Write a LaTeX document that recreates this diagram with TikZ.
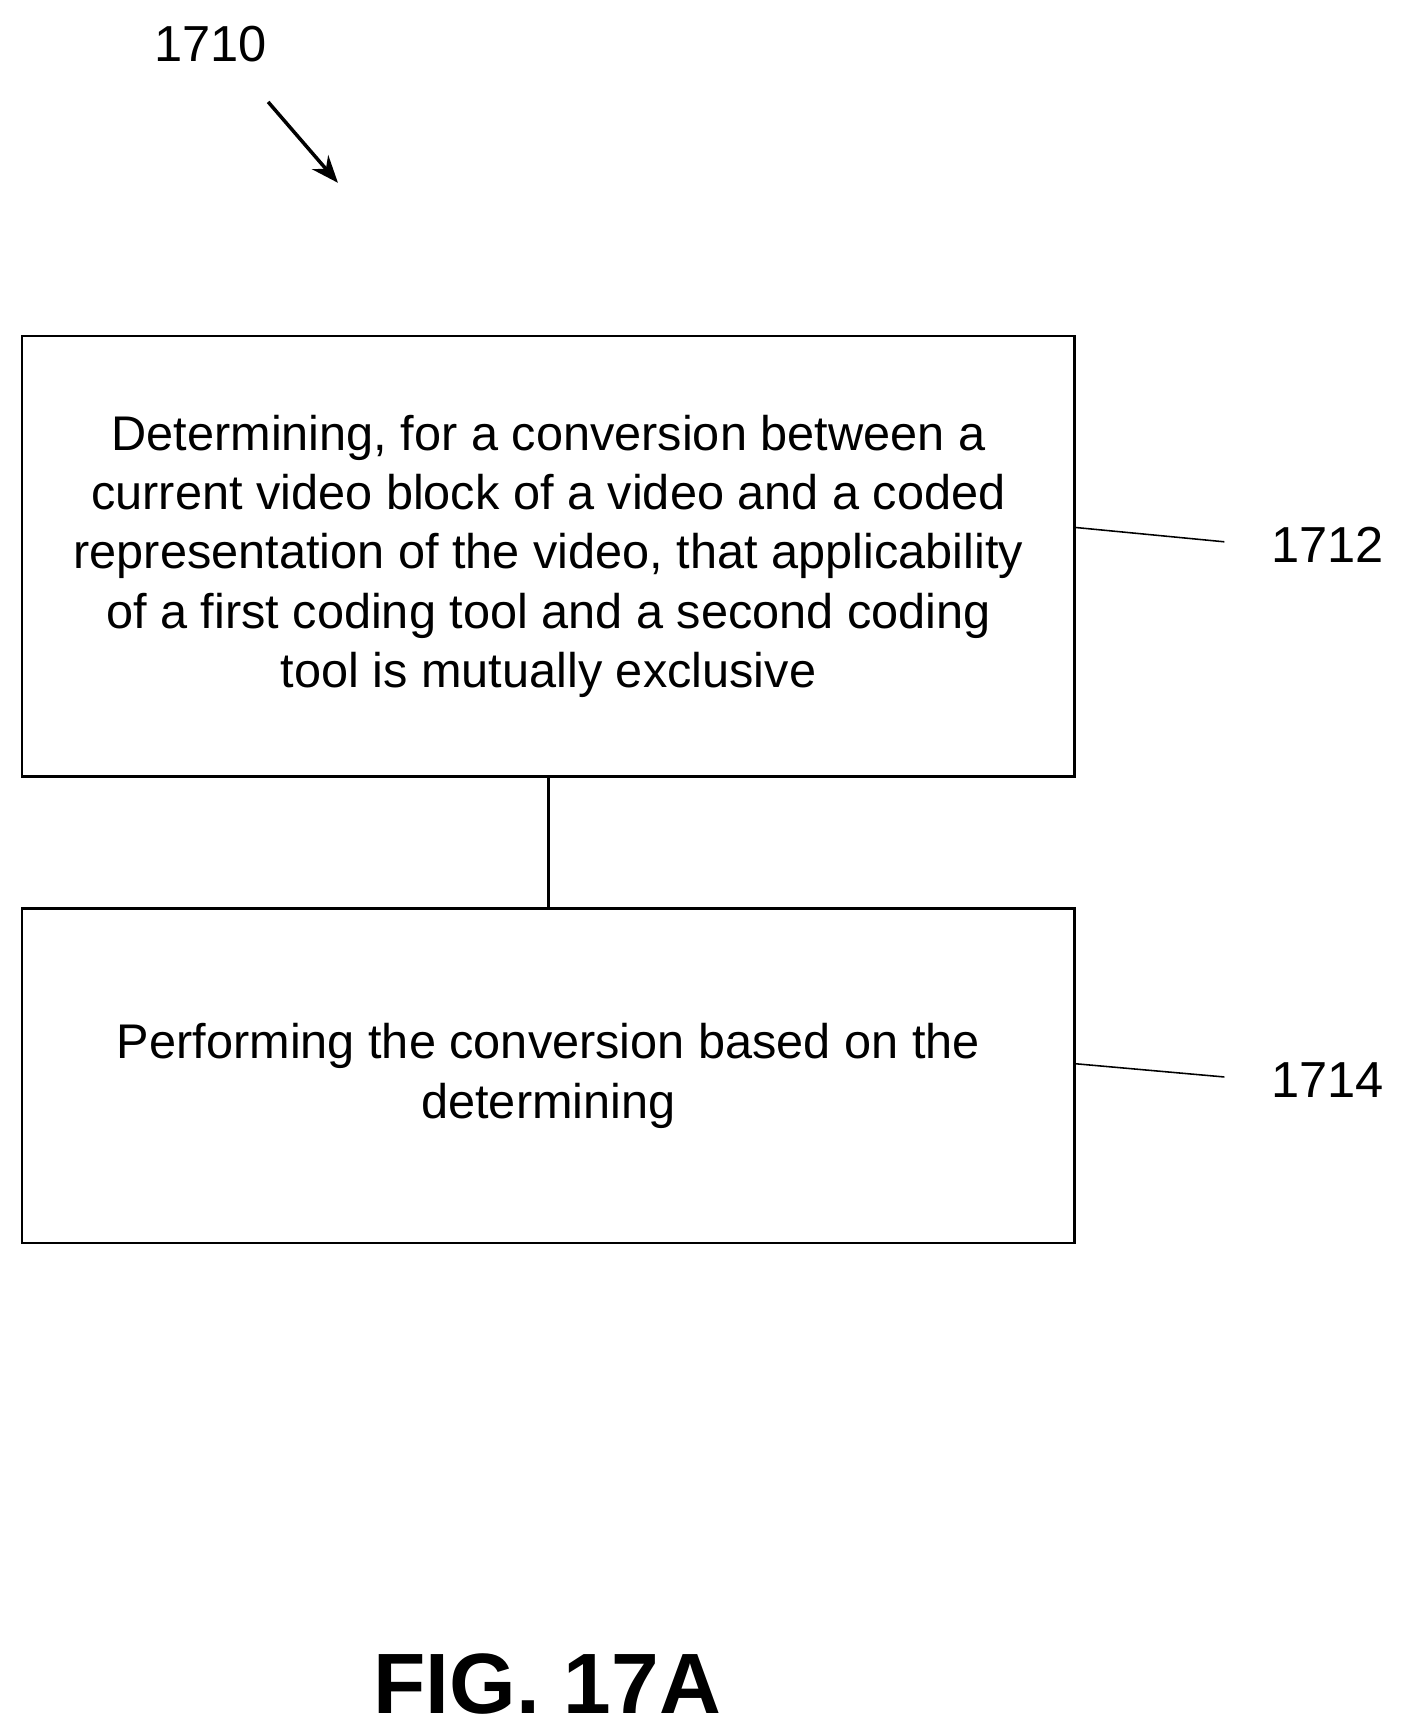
\documentclass[tikz,border=0pt]{standalone}
\usepackage{fontspec}
\setmainfont{Liberation Sans}
\usetikzlibrary{positioning,arrows.meta}
\begin{document}
\begin{tikzpicture}[x=0.02cm, y=-0.02cm,
  stepbox/.style={draw, line width=1.2pt, minimum width=19cm, align=center,
    font=\fontsize{25}{30.5}\selectfont},
  ref/.style={font=\fontsize{26}{30}\selectfont},
  lead/.style={line width=0.8pt}
]
%frame
\useasboundingbox (0,0) rectangle (1270,1565);

%steps
\node[stepbox, minimum height=7.96cm] (det) at (495,502) {Determining, for a conversion between a\\current video block of a video and a coded\\representation of the video, that applicability\\of a first coding tool and a second coding\\tool is mutually exclusive};
\node[stepbox, minimum height=6.04cm] (perf) at (495,971) {Performing the conversion based on the\\determining};
\draw[line width=1.8pt] (det.south) -- (perf.north);

%reference numbers
\node[ref] (r1710) at (190,40) {1710};
\coordinate (tip) at (305,165);
\draw[line width=1.8pt, -{Stealth[length=14pt,width=11pt]}] (242,92) -- (tip);
\node[ref] (r1712) at (1198,492) {1712};
\draw[lead] (970,476) -- (1105,489);
\node[ref] (r1714) at (1198,975) {1714};
\draw[lead] (970,960) -- (1105,972);

%caption
\node[font=\fontsize{44}{50}\selectfont\bfseries] (fig) at (494,1520) {FIG. 17A};
\end{tikzpicture}
\end{document}
